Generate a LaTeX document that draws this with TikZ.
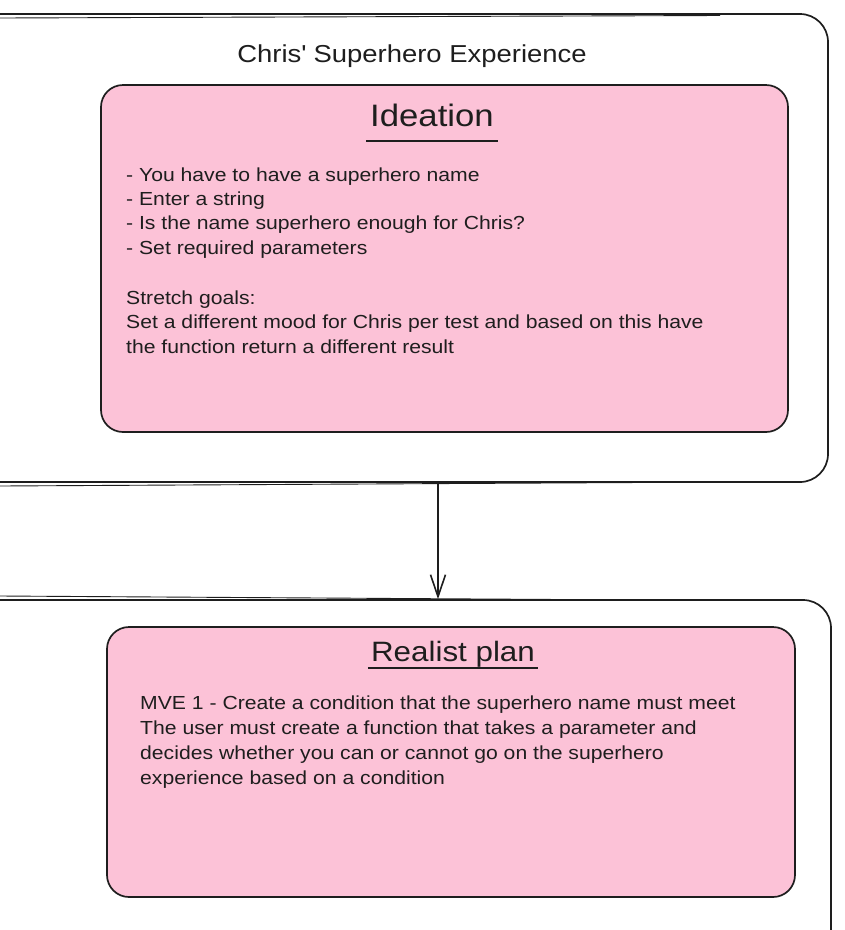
\documentclass[tikz,border=0pt]{standalone}
\usepackage{fontspec}
\setmainfont{Liberation Sans}[FakeStretch=1.12]
\usetikzlibrary{arrows.meta}
\definecolor{ink}{HTML}{1E1E1E}
\definecolor{pinkfill}{HTML}{FCC2D7}
\tikzset{
  outerbox/.style={draw=ink, line width=1.7pt, rounded corners=28pt, inner sep=0pt},
  pinkbox/.style={draw=ink, fill=pinkfill, line width=1.7pt, rounded corners=22pt, inner sep=0pt},
  sketch/.style={draw=ink, line width=0.9pt},
  bodytxt/.style={anchor=base west, inner sep=0pt, text=ink, font=\fontsize{18.9}{22}\selectfont},
  titletxt/.style={anchor=base, inner sep=0pt, text=ink, font=\fontsize{24.5}{30}\selectfont},
  headtxt/.style={anchor=base, inner sep=0pt, text=ink, font=\fontsize{28}{34}\selectfont},
  uline/.style={draw=ink, line width=2.4pt},
  arrow/.style={draw=ink, line width=1.6pt, -{Straight Barb[length=22pt,width=15pt]}}
}
\begin{document}
\begin{tikzpicture}[x=1pt,y=-1pt]
\useasboundingbox (0,0) rectangle (845,930);
% outer boxes
\node[outerbox, minimum width=928pt, minimum height=468pt] (exp) at (364,248) {};
\node[outerbox, minimum width=931pt, minimum height=500pt] (plan) at (365.5,850) {};
% sketchy second strokes
\draw[sketch] (0,18) -- (720,15.5);
\draw[sketch] (0,486) -- (640,482.5);
\draw[sketch] (0,596) -- (560,599.5);
% title
\node[titletxt] (title) at (412,62) {Chris\textquotesingle\ Superhero Experience};
% pink box 1
\node[pinkbox, minimum width=687pt, minimum height=347pt] (idea) at (444.5,258.5) {};
\node[headtxt, font=\fontsize{31}{36}\selectfont] (ideat) at (432,126) {Ideation};
\draw[uline] ([xshift=-4pt,yshift=-15pt]ideat.base west) -- ([xshift=4pt,yshift=-15pt]ideat.base east);
\node[bodytxt] (i1) at (126,181) {- You have to have a superhero name};
\node[bodytxt] (i2) at (126,205) {- Enter a string};
\node[bodytxt] (i3) at (126,229.5) {- Is the name superhero enough for Chris?};
\node[bodytxt] (i4) at (126,254) {- Set required parameters};
\node[bodytxt] (i5) at (126,304) {Stretch goals:};
\node[bodytxt] (i6) at (126,328.5) {Set a different mood for Chris per test and based on this have};
\node[bodytxt] (i7) at (126,353) {the function return a different result};
% pink box 2
\node[pinkbox, minimum width=688pt, minimum height=270pt] (real) at (451,762) {};
\node[headtxt] (realt) at (453,661) {Realist plan};
\draw[uline] ([xshift=-3pt,yshift=-7pt]realt.base west) -- ([xshift=3pt,yshift=-7pt]realt.base east);
\node[bodytxt] (r1) at (140,709) {MVE 1 - Create a condition that the superhero name must meet};
\node[bodytxt] (r2) at (140,734) {The user must create a function that takes a parameter and};
\node[bodytxt] (r3) at (140,759) {decides whether you can or cannot go on the superhero};
\node[bodytxt] (r4) at (140,784) {experience based on a condition};
% connector
\coordinate (ax) at (438,0);
\draw[arrow] (exp.south -| ax) -- (plan.north -| ax);
\end{tikzpicture}
\end{document}
